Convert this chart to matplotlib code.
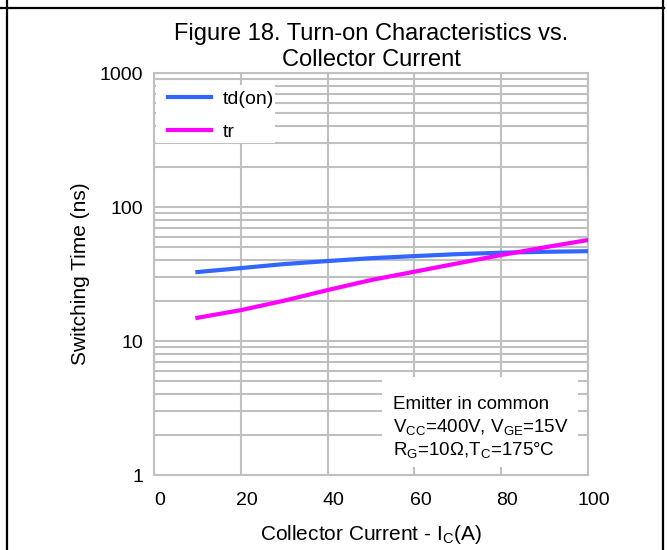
import matplotlib
matplotlib.use("Agg")
import matplotlib.pyplot as plt
from matplotlib.lines import Line2D
from matplotlib.patches import Rectangle
from matplotlib.transforms import ScaledTranslation
from matplotlib.ticker import LogLocator, NullFormatter, FixedLocator

plt.rcParams['font.family'] = ['Liberation Sans', 'DejaVu Sans']
plt.rcParams['mathtext.fontset'] = 'custom'
plt.rcParams['mathtext.rm'] = 'Liberation Sans'

# dane
ic = [10, 20, 30, 40, 50, 60, 70, 80, 90, 100]
td_on = [32.7, 35.0, 37.5, 39.5, 41.5, 43.0, 44.5, 45.6, 46.3, 46.8]
tr = [14.9, 17.0, 20.0, 24.0, 28.5, 32.9, 38.0, 43.8, 50.0, 56.7]
x_ticks = [0, 20, 40, 60, 80, 100]
y_ticks = [1, 10, 100, 1000]
y_labels = ["1", "10", "100", "1000"]

GRID = "#c0c0c0"

fig = plt.figure(figsize=(6.67, 5.5), dpi=100)
ax = fig.add_axes([154/667, 1-475/550, 434/667, 402/550])

ax.plot(ic, td_on, color="#3366ff", lw=3, label="td(on)", zorder=3)
ax.plot(ic, tr, color="#ff00ff", lw=3, label="tr", zorder=3)

ax.set_yscale("log")
ax.set_xlim(0, 100)
ax.set_ylim(1, 1000)
ax.xaxis.set_major_locator(FixedLocator(x_ticks))
ax.yaxis.set_major_locator(FixedLocator(y_ticks))
ax.set_yticklabels(y_labels)
ax.yaxis.set_minor_locator(LogLocator(base=10, subs=range(2, 10)))
ax.yaxis.set_minor_formatter(NullFormatter())

ax.set_axisbelow(True)
ax.grid(True, which="both", color=GRID, lw=1.5)
for s in ax.spines.values():
    s.set_color(GRID)
    s.set_linewidth(1.5)
ax.tick_params(which="both", length=0, labelsize=14)
ax.tick_params(axis="x", pad=12)
ax.tick_params(axis="y", pad=8)
# etykiety osi X w oryginale lekko przesunięte w prawo
for lab in ax.get_xticklabels():
    lab.set_transform(lab.get_transform() + ScaledTranslation(0.06, 0, fig.dpi_scale_trans))

ax.set_xlabel(r"Collector Current - I$_\mathregular{C}$(A)", fontsize=15, labelpad=10)
ax.set_ylabel("Switching Time (ns)", fontsize=15, labelpad=7)
ax.set_title("Figure 18. Turn-on Characteristics vs.\nCollector Current",
             fontsize=17, pad=5, linespacing=1.25)

# legenda na białym tle
ax.add_patch(Rectangle((2/434, (475-143)/402), 119/434, 58/402, transform=ax.transAxes,
                       facecolor="white", edgecolor="none", zorder=1))
leg = ax.legend(loc="upper left", bbox_to_anchor=(14/434, (475-90)/402), borderaxespad=0,
                borderpad=0, fontsize=14, handlelength=2.2, handletextpad=0.6,
                frameon=False, labelspacing=0.8)

# pole z warunkami pomiaru
ax.add_patch(Rectangle((228/434, 8/402), 196/434, 90/402, transform=ax.transAxes,
                       facecolor="white", edgecolor="none", zorder=1))
notes = ["Emitter in common",
         r"V$_\mathregular{CC}$=400V, V$_\mathregular{GE}$=15V",
         r"R$_\mathregular{G}$=10Ω,T$_\mathregular{C}$=175°C"]
for i, t in enumerate(notes):
    ax.text(239/434, (475-409)/402 - i * 23.5/402, t, transform=ax.transAxes,
            fontsize=13.5, va="baseline", ha="left", zorder=4)

# ramka strony
fig.add_artist(Line2D([0, 664/667], [1-8/550, 1-8/550], color="black", lw=1.6))
fig.add_artist(Line2D([7/667, 7/667], [0, 1], color="black", lw=1.6))
fig.add_artist(Line2D([663/667, 663/667], [0, 1], color="black", lw=1.6))

fig.savefig("out.png", dpi=100)
